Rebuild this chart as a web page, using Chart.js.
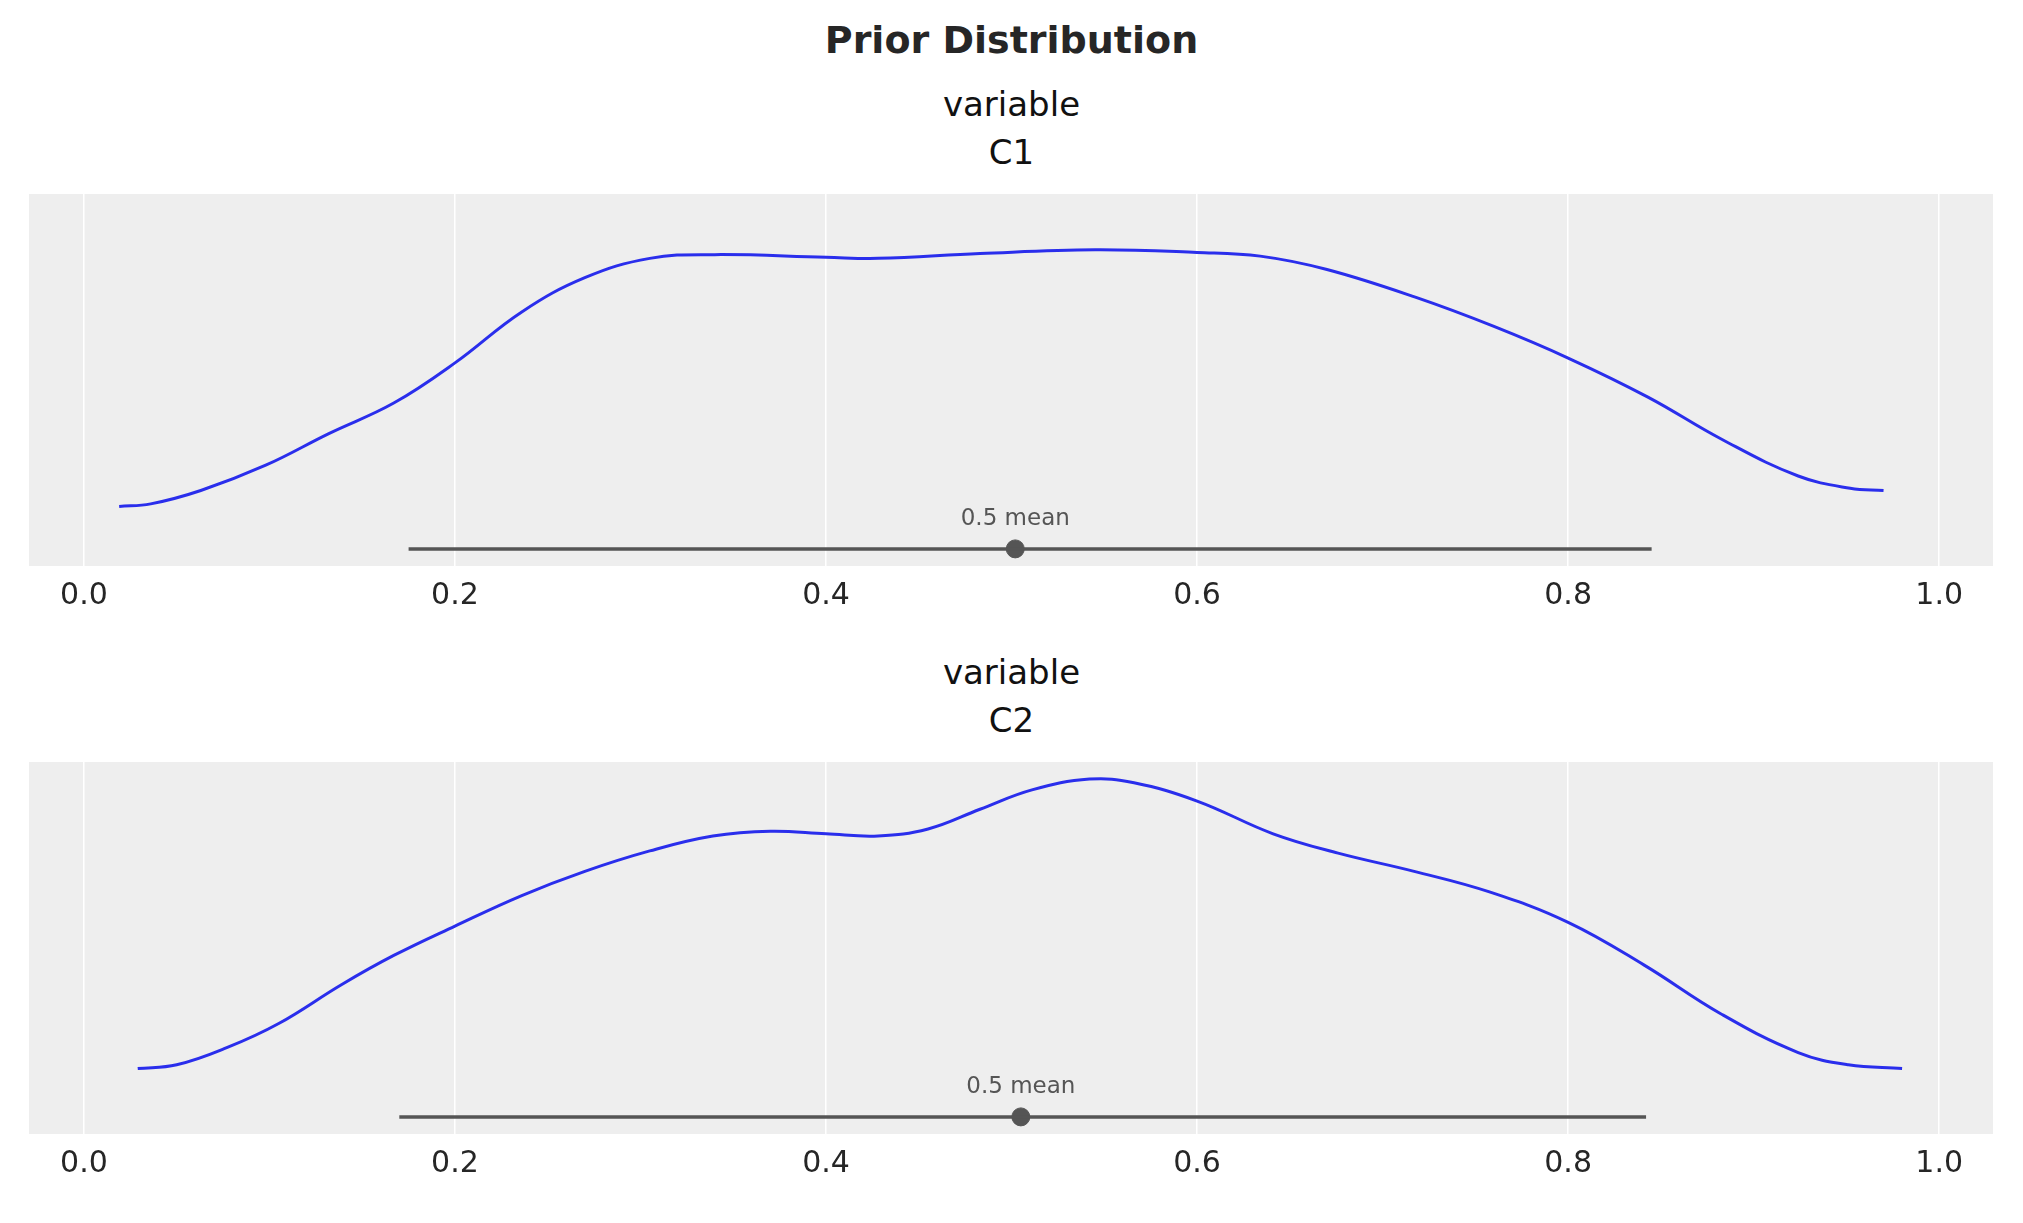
<!DOCTYPE html>
<html><head><meta charset="utf-8">
<script src="https://cdn.jsdelivr.net/npm/chart.js@4"></script>
<style>
body{margin:0;width:2023px;height:1223px;background:#fff;font-family:"DejaVu Sans",sans-serif;position:relative;overflow:hidden}
.t{position:absolute;left:0;width:2023px;text-align:center;color:#222}
.box{position:absolute;left:19px;width:1984px;height:442px}
</style></head><body>
<div class="t" style="top:18px;font-size:38px;font-weight:bold;color:#262626">Prior Distribution</div>
<div class="t" style="top:80px;font-size:34px;line-height:48px;color:#111">variable<br>C1</div>
<div class="t" style="top:648px;font-size:34px;line-height:48px;color:#111">variable<br>C2</div>
<div class="box" style="top:184px"><canvas id="c1"></canvas></div>
<div class="box" style="top:752px"><canvas id="c2"></canvas></div>
<script>
const tickValues = [0.0, 0.2, 0.4, 0.6, 0.8, 1.0];

const c1X = [0.019,0.036,0.063,0.098,0.132,0.167,0.2,0.236,0.27,0.305,0.34,0.4,0.428,0.483,0.545,0.6,0.634,0.67,0.718,0.76,0.8,0.843,0.883,0.924,0.952,0.97];
const c1Y = [0.160,0.167,0.203,0.271,0.356,0.438,0.546,0.683,0.775,0.827,0.837,0.830,0.827,0.840,0.850,0.843,0.833,0.797,0.722,0.644,0.559,0.454,0.340,0.242,0.209,0.203];
const c1Hdi = [0.175, 0.845];
const c1Mean = 0.502;

const c2X = [0.029,0.05,0.077,0.105,0.139,0.167,0.2,0.236,0.27,0.305,0.339,0.37,0.4,0.428,0.455,0.483,0.511,0.542,0.566,0.6,0.641,0.676,0.717,0.758,0.8,0.841,0.882,0.924,0.951,0.98];
const c2Y = [0.176,0.186,0.232,0.297,0.402,0.480,0.559,0.641,0.706,0.761,0.801,0.814,0.807,0.801,0.820,0.873,0.925,0.954,0.944,0.895,0.807,0.755,0.706,0.650,0.569,0.454,0.324,0.219,0.186,0.176];
const c2Hdi = [0.17, 0.842];
const c2Mean = 0.505;

const hdiLevel = 0.046;

const bgPlugin = {
  id: "bg",
  beforeDraw(chart) {
    const a = chart.chartArea, ctx = chart.ctx;
    ctx.save();
    ctx.fillStyle = "#eeeeee";
    ctx.fillRect(a.left, a.top, a.right - a.left, a.bottom - a.top);
    ctx.restore();
  }
};

const labelPlugin = {
  id: "meanLabel",
  afterDatasetsDraw(chart) {
    const m = chart.options.plugins.meanLabel;
    const x = chart.scales.x.getPixelForValue(m.mean);
    const y = chart.scales.y.getPixelForValue(hdiLevel);
    const ctx = chart.ctx;
    ctx.save();
    ctx.fillStyle = "#555";
    ctx.font = "23px 'DejaVu Sans'";
    ctx.textAlign = "center";
    ctx.textBaseline = "bottom";
    ctx.fillText(m.mean.toFixed(1) + " mean", x, y - 18);
    ctx.restore();
  }
};

function makeChart(id, xs, ys, hdi, mean) {
  new Chart(document.getElementById(id), {
    type: "line",
    data: {
      datasets: [
        { data: xs.map((x, i) => ({ x, y: ys[i] })), borderColor: "#2a2eec", borderWidth: 3,
          pointRadius: 0, tension: 0.4, fill: false },
        { data: hdi.map(x => ({ x, y: hdiLevel })), borderColor: "#555555", borderWidth: 3.5,
          pointRadius: 0, tension: 0 },
        { data: [{ x: mean, y: hdiLevel }], showLine: false, pointRadius: 9,
          pointBackgroundColor: "#555555", pointBorderColor: "#555555" }
      ]
    },
    options: {
      responsive: true, maintainAspectRatio: false, animation: false,
      layout: { padding: 0 },
      plugins: { legend: { display: false }, tooltip: { enabled: false }, meanLabel: { mean } },
      scales: {
        x: {
          type: "linear", min: -0.0296, max: 1.029,
          afterBuildTicks: s => { s.ticks = tickValues.map(v => ({ value: v })); },
          grid: { color: "#ffffff", lineWidth: 1.5, drawTicks: false },
          border: { display: false },
          ticks: { color: "#262626", font: { size: 30, family: "DejaVu Sans" }, padding: 12,
                   callback: v => v.toFixed(1) }
        },
        y: { min: 0, max: 1, display: false }
      }
    },
    plugins: [bgPlugin, labelPlugin]
  });
}

makeChart("c1", c1X, c1Y, c1Hdi, c1Mean);
makeChart("c2", c2X, c2Y, c2Hdi, c2Mean);
</script>
</body></html>
